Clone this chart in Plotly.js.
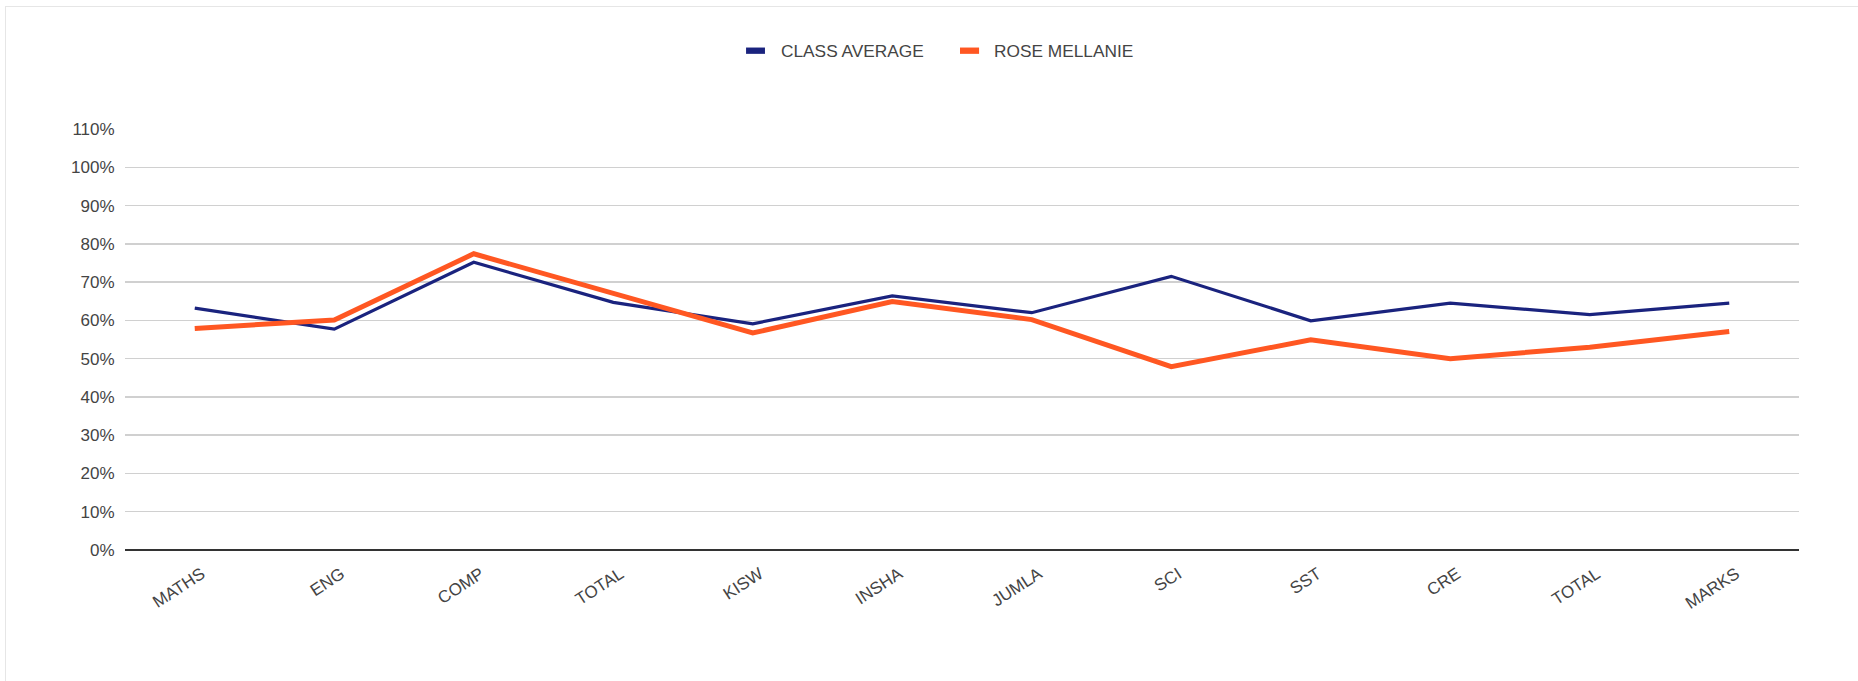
<!DOCTYPE html>
<html>
<head>
<meta charset="utf-8">
<script src="https://cdn.plot.ly/plotly-3.0.1.min.js"></script>
<style>
  html, body { margin: 0; padding: 0; background: #fff; overflow: hidden; width: 1858px; height: 681px; }
  #frame { position: absolute; left: 5px; top: 6px; width: 1900px; height: 700px;
           border-left: 1.5px solid #e6e6e6; border-top: 1.5px solid #e6e6e6; pointer-events: none; }
  #chart { position: absolute; left: 0; top: 0; width: 1858px; height: 681px; }
</style>
</head>
<body>
<div id="chart"></div>
<div id="frame"></div>
<script>
const categories = ["MATHS", "ENG", "COMP", "TOTAL", "KISW", "INSHA", "JUMLA", "SCI", "SST", "CRE", "TOTAL", "MARKS"];
const classAverage = [0.632, 0.577, 0.752, 0.647, 0.591, 0.664, 0.620, 0.715, 0.599, 0.645, 0.615, 0.645];
const roseMellanie = [0.579, 0.601, 0.774, 0.671, 0.567, 0.649, 0.602, 0.479, 0.549, 0.500, 0.530, 0.571];
const seriesNames = ["CLASS AVERAGE", "ROSE MELLANIE"];
const seriesColors = ["#1a237e", "#ff5722"];
const yTicks = [0, 0.1, 0.2, 0.3, 0.4, 0.5, 0.6, 0.7, 0.8, 0.9, 1.0, 1.1];

const xIdx = categories.map((_, i) => i);
const FONT = '"Liberation Sans", Arial, sans-serif';

const traces = [
  { x: xIdx, y: classAverage, name: seriesNames[0], type: 'scatter', mode: 'lines',
    line: { color: seriesColors[0], width: 3.2 }, showlegend: false, hoverinfo: 'y' },
  { x: xIdx, y: roseMellanie, name: seriesNames[1], type: 'scatter', mode: 'lines',
    line: { color: seriesColors[1], width: 5 }, showlegend: false, hoverinfo: 'y' }
];

// manual legend (swatches + labels), in paper coordinates
const legY = 1.186;
const legItems = [
  { sx0: 0.371, sx1: 0.3823, tx: 0.3905 },
  { sx0: 0.4988, sx1: 0.5102, tx: 0.518 }
];
const shapes = legItems.map((it, i) => ({
  type: 'rect', xref: 'paper', yref: 'paper',
  x0: it.sx0, x1: it.sx1, y0: legY - 0.0075, y1: legY + 0.0075,
  fillcolor: seriesColors[i], line: { width: 0 }
}));
const annotations = legItems.map((it, i) => ({
  xref: 'paper', yref: 'paper', x: it.tx, y: legY, xanchor: 'left', yanchor: 'middle',
  text: seriesNames[i], showarrow: false, font: { family: FONT, size: 17.3, color: '#444' }
}));

const layout = {
  width: 1858, height: 681,
  margin: { l: 125, r: 59, t: 129, b: 131 },
  paper_bgcolor: '#ffffff', plot_bgcolor: '#ffffff',
  font: { family: FONT, size: 17, color: '#444' },
  showlegend: false,
  xaxis: {
    range: [-0.5, categories.length - 0.5],
    tickmode: 'array', tickvals: xIdx, ticktext: categories,
    tickangle: -33, showgrid: false, zeroline: false, showline: false,
    ticks: '', ticklabelstandoff: 10, ticklabelshift: 7,
    tickfont: { family: FONT, size: 17, color: '#444' }
  },
  yaxis: {
    range: [0, 1.1], tickmode: 'array', tickvals: yTicks, tickformat: '.0%',
    showgrid: true, gridcolor: '#d0d0d0', gridwidth: 1.5,
    zeroline: true, zerolinecolor: '#333333', zerolinewidth: 2,
    showline: false, ticks: 'outside', ticklen: 6, tickcolor: 'rgba(0,0,0,0)',
    tickfont: { family: FONT, size: 17, color: '#444' }
  },
  shapes: shapes,
  annotations: annotations
};

Plotly.newPlot('chart', traces, layout, { displayModeBar: false, staticPlot: true });
</script>
</body>
</html>
